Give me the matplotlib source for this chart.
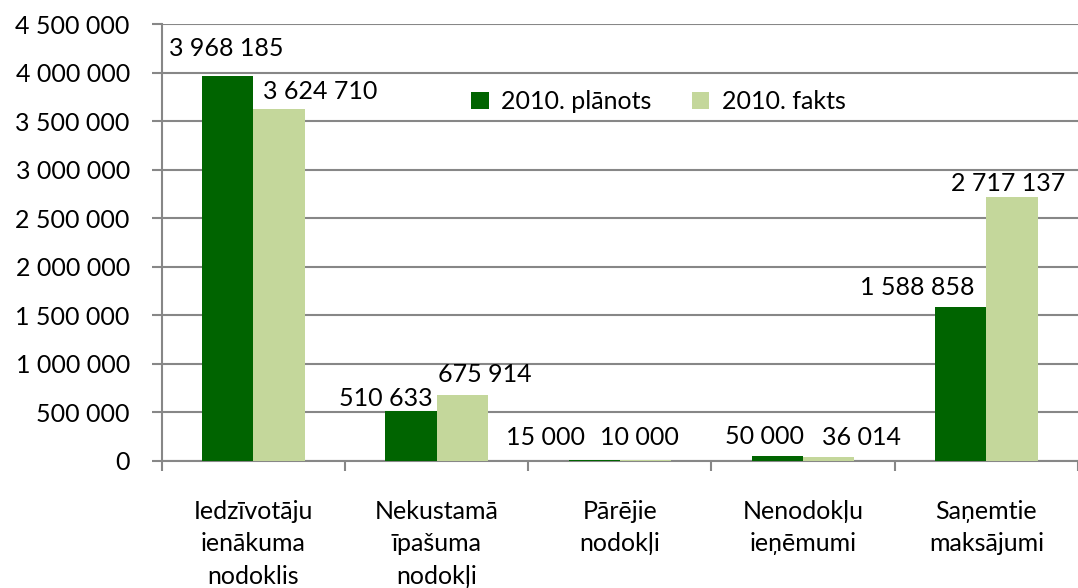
import numpy as np
import matplotlib.pyplot as plt
from matplotlib.ticker import FuncFormatter, FixedLocator

plt.rcParams['font.family'] = ['Lato', 'DejaVu Sans']

categories = ['Iedzīvotāju\nienākuma\nnodoklis', 'Nekustamā\nīpašuma\nnodokļi',
              'Pārējie\nnodokļi', 'Nenodokļu\nieņēmumi', 'Saņemtie\nmaksājumi']
planots = [3968185, 510633, 15000, 50000, 1588858]
fakts = [3624710, 675914, 10000, 36014, 2717137]
series_names = ['2010. plānots', '2010. fakts']

# label offsets in pixels (dx, dy) from bar top centre
off_plan = [(-1, 27), (-25, 13), (-49, 22), (-13, 20), (-43, 19)]
off_fakt = [(41, 18), (23, 21), (-6, 23), (33, 20), (-4, 14)]

def fmt(v):
    return f"{int(v):,}".replace(",", " ")

fig = plt.figure(figsize=(10.78, 5.88), dpi=100)
ax = fig.add_axes([0.150, 0.216, 0.85, 0.743])

x = np.arange(len(categories))
w = 0.28
b1 = ax.bar(x - w/2, planots, w, color='#006400', label=series_names[0], zorder=3)
b2 = ax.bar(x + w/2, fakts, w, color='#c4d79b', label=series_names[1], zorder=3)

fs = 18
for bars, vals, offs in [(b1, planots, off_plan), (b2, fakts, off_fakt)]:
    for r, v, (dx, dy) in zip(bars, vals, offs):
        ax.annotate(fmt(v), (r.get_x() + r.get_width()/2, r.get_height()),
                    xytext=(dx*0.72, dy*0.72), textcoords='offset points',
                    ha='center', va='center', fontsize=fs, zorder=4)

ax.set_ylim(0, 4500000)
ax.set_xlim(-0.5, 4.45)
ax.yaxis.set_major_locator(FixedLocator(np.arange(0, 4500001, 500000)))
ax.yaxis.set_major_formatter(FuncFormatter(lambda v, p: fmt(v)))
ax.grid(axis='y', color='#878787', linewidth=1.5, zorder=0)
ax.set_axisbelow(True)

ax.set_xticks(x)
ax.set_xticklabels(categories, fontsize=fs, linespacing=1.5, va='top')
ax.set_xticks(np.arange(-0.5, 5, 1), minor=True)
ax.tick_params(axis='x', which='major', length=0, pad=28)
ax.tick_params(axis='x', which='minor', length=7, width=1.5, color='#878787')
ax.tick_params(axis='y', length=7, width=1.5, color='#878787', labelsize=fs, pad=16)

for s in ['top', 'right']:
    ax.spines[s].set_visible(False)
for s in ['left', 'bottom']:
    ax.spines[s].set_color('#878787')
    ax.spines[s].set_linewidth(1.5)

ax.legend(loc='center', bbox_to_anchor=(0.542, 0.822), ncol=2, frameon=False,
          fontsize=fs, handlelength=0.7, handleheight=0.7, columnspacing=1.6,
          handletextpad=0.5)

fig.savefig('out.png', dpi=100)
